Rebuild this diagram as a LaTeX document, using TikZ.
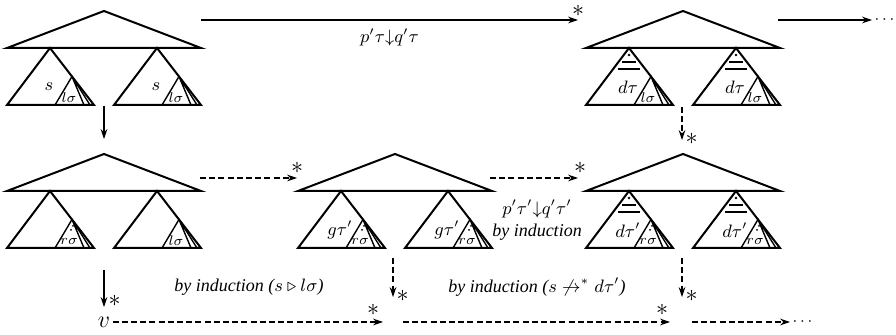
\documentclass[tikz,border=0pt]{standalone}
\usepackage{amsmath}
\usepackage{amssymb}
\usepackage{fontspec}
\setmainfont{Liberation Serif}
\usetikzlibrary{arrows.meta}

% top triangle of a tree, apex at (0,0)
\newcommand{\toptri}{\draw[tri] (0,0) -- (-97,37) -- (97,37) -- cycle;}
% subtree hanging at (#1,37): outer label #2, inner label #3, extras #4
\newcommand{\subtree}[4]{%
  \def\ax{#1}%
  \draw[tri] (\ax,37) -- (\ax-43,94) -- (\ax+44,94) -- cycle;
  \draw[inner] (\ax+5,94) -- (\ax+22,65.5) -- (\ax+34,94)
               (\ax+23,67) -- (\ax+40,94);
  \node[sublab] at (\ax-1,76) {#2};
  \node[inlab] at (\ax+19,87) {#3};
  #4}
\newcommand{\dlines}{%
  \fill (\ax,44) circle (0.7pt);
  \draw[inner] (\ax-7,51) -- (\ax+7,51) (\ax-11,58) -- (\ax+11,58);}
\newcommand{\rdots}{%
  \fill (\ax+23,72) circle (0.5pt);
  \fill (\ax+21,76) circle (0.5pt);}

\begin{document}
\begin{tikzpicture}[x=0.5pt, y=-0.5pt, >={Stealth[length=5pt,width=3.4pt]},
    tri/.style={line width=1pt, line join=miter},
    inner/.style={line width=0.7pt},
    move/.style={->, line width=0.55pt},
    dmove/.style={move, dash pattern=on 3pt off 1.6pt},
    star/.style={inner sep=0pt, font=\large, text height=5pt, text depth=0pt},
    sublab/.style={font=\small, inner sep=0pt},
    inlab/.style={font=\scriptsize, inner sep=0pt},
    lab/.style={font=\small\itshape, inner sep=1pt}]
  \useasboundingbox (0,0) rectangle (896,335);

  % first row
  \begin{scope}[shift={(104,11)}]
    \toptri
    \subtree{-54}{$s$}{$l\sigma$}{}
    \subtree{53}{$s$}{$l\sigma$}{}
  \end{scope}
  \begin{scope}[shift={(683,11)}]
    \toptri
    \subtree{-54}{$d\tau$}{$l\sigma$}{\dlines}
    \subtree{53}{$d\tau$}{$l\sigma$}{\dlines}
  \end{scope}

  % second row
  \begin{scope}[shift={(104,154)}]
    \toptri
    \subtree{-54}{}{$r\sigma$}{\rdots}
    \subtree{53}{}{$l\sigma$}{}
  \end{scope}
  \begin{scope}[shift={(395,154)}]
    \toptri
    \subtree{-54}{$g\tau'$}{$r\sigma$}{\rdots}
    \subtree{53}{$g\tau'$}{$r\sigma$}{\rdots}
  \end{scope}
  \begin{scope}[shift={(683,154)}]
    \toptri
    \subtree{-54}{$d\tau'$}{$r\sigma$}{\dlines\rdots}
    \subtree{53}{$d\tau'$}{$r\sigma$}{\dlines\rdots}
  \end{scope}

  % end points of the moves
  \coordinate (a1s) at (201,20);
  \coordinate (a1e) at (578,20);
  \coordinate (a2s) at (778,20);
  \coordinate (a2e) at (872,20);
  \coordinate (a3s) at (200,178);
  \coordinate (a3e) at (297,178);
  \coordinate (a4s) at (490,178);
  \coordinate (a4e) at (578,178);
  \coordinate (d1s) at (104,106);
  \coordinate (d1e) at (104,139);
  \coordinate (d2s) at (682,107);
  \coordinate (d2e) at (682,140);
  \coordinate (d3s) at (104,270);
  \coordinate (d3e) at (104,307);
  \coordinate (d4s) at (393,258);
  \coordinate (d4e) at (393,297);
  \coordinate (d5s) at (682,258);
  \coordinate (d5e) at (682,297);
  \node[font=\large, inner sep=1pt] (v) at (104,322) {$v$};
  \coordinate (b1e) at (383,322);
  \coordinate (b2s) at (403,322);
  \coordinate (b2e) at (670,322);
  \coordinate (b3s) at (692,322);
  \coordinate (b3e) at (790,322);

  \draw[move] (a1s) -- (a1e) node[midway, below=3pt, lab] {$p'\tau{\downarrow}q'\tau$}
    node[star, pos=1, above=1.5pt] {$*$};
  \draw[move] (a2s) -- (a2e) node[right, inner sep=1pt, font=\footnotesize] {$\cdots$};
  \draw[dmove] (a3s) -- (a3e) node[star, pos=1, above=2pt] {$*$};
  \draw[dmove] (a4s) -- (a4e) node[star, pos=1, above=2pt, xshift=1pt] {$*$};
  \node[lab, align=center] at (537,220) {$p'\tau'{\downarrow}q'\tau'$\\by induction};

  \draw[move] (d1s) -- (d1e);
  \draw[dmove] (d2s) -- (d2e) node[star, right=1.5pt] {$*$};
  \draw[move] (d3s) -- (d3e) node[star, pos=0.85, right=2pt] {$*$};
  \draw[dmove] (d4s) -- (d4e) node[star, right=1.5pt] {$*$};
  \draw[dmove] (d5s) -- (d5e) node[star, right=1.5pt] {$*$};

  \node[lab] at (249,287) {by induction ($s \triangleright l\sigma$)};
  \node[lab] at (537,287) {by induction ($s \not\to^{*} d\tau'$)};

  \draw[dmove] (v) -- (b1e) node[star, pos=1, above=3pt, xshift=-5pt] {$*$};
  \draw[dmove] (b2s) -- (b2e) node[star, pos=1, above=3pt, xshift=-4pt] {$*$};
  \draw[dmove] (b3s) -- (b3e) node[right, inner sep=1pt, font=\footnotesize] {$\cdots$};
\end{tikzpicture}
\end{document}
